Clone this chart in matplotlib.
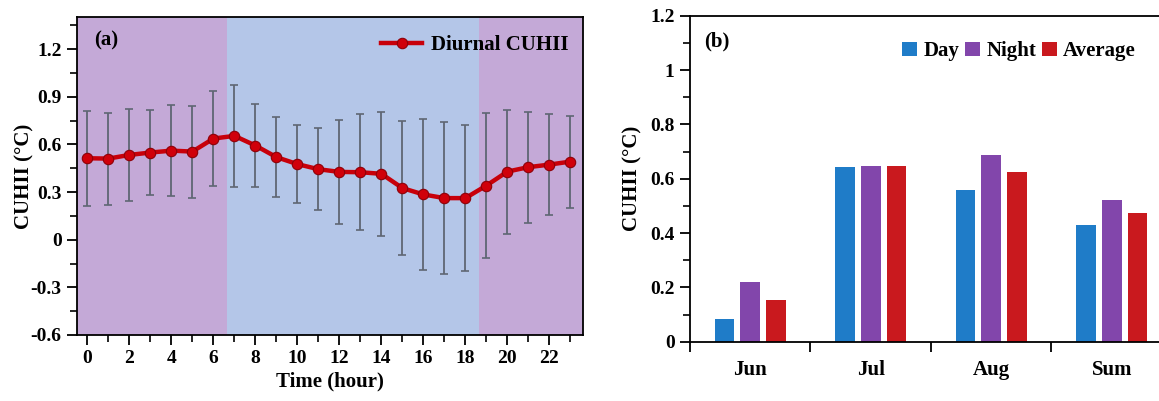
import matplotlib
matplotlib.use("Agg")
import matplotlib.pyplot as plt
from matplotlib.ticker import MultipleLocator
import numpy as np

plt.rcParams['font.family'] = ['Liberation Serif', 'DejaVu Serif']
plt.rcParams['font.weight'] = 'bold'
plt.rcParams['axes.labelweight'] = 'bold'

# Panel (a): diurnal CUHII with std error bars
hours = list(range(24))
cuhii_mean = [0.513, 0.511, 0.534, 0.549, 0.561, 0.555, 0.637, 0.654, 0.593, 0.520,
              0.476, 0.444, 0.427, 0.425, 0.415, 0.325, 0.285, 0.262, 0.262, 0.341,
              0.429, 0.457, 0.473, 0.492]
cuhii_std = [0.30, 0.29, 0.29, 0.27, 0.285, 0.29, 0.30, 0.32, 0.26, 0.25,
             0.245, 0.26, 0.33, 0.365, 0.39, 0.42, 0.475, 0.48, 0.46, 0.455,
             0.39, 0.35, 0.32, 0.29]
night_end = 6.65
day_end = 18.65

# Panel (b): monthly day / night / average CUHII
months = ['Jun', 'Jul', 'Aug', 'Sum']
day_vals = [0.083, 0.643, 0.559, 0.428]
night_vals = [0.221, 0.647, 0.688, 0.520]
avg_vals = [0.153, 0.647, 0.623, 0.474]

c_night_bg = '#c4a9d7'
c_day_bg = '#b4c6e8'
c_line = '#c8000a'
c_err = '#5f6673'
c_day = '#1f7cc8'
c_night = '#8246ab'
c_avg = '#c9191e'

fig = plt.figure(figsize=(11.59, 4.01), dpi=100)
ax1 = fig.add_axes([0.0664, 0.1646, 0.4366, 0.792])
ax2 = fig.add_axes([0.5953, 0.1479, 0.4159, 0.813])

# ---- (a)
ax1.set_xlim(-0.5, 23.6)
ax1.set_ylim(-0.6, 1.4)
ax1.axvspan(-0.5, night_end, color=c_night_bg, lw=0, zorder=0)
ax1.axvspan(night_end, day_end, color=c_day_bg, lw=0, zorder=0)
ax1.axvspan(day_end, 23.6, color=c_night_bg, lw=0, zorder=0)
ax1.errorbar(hours, cuhii_mean, yerr=cuhii_std, fmt='none', ecolor=c_err,
             elinewidth=1.3, capsize=3, capthick=1.2, zorder=2)
ax1.plot(hours, cuhii_mean, color=c_line, lw=3.2, marker='o', ms=7.5,
         mfc='#d0000a', mec='#8e0008', mew=0.8, zorder=3, label='Diurnal CUHII')
ax1.set_xticks(range(0, 24, 2))
ax1.xaxis.set_minor_locator(MultipleLocator(1))
ax1.set_yticks([-0.6, -0.3, 0, 0.3, 0.6, 0.9, 1.2])
ax1.set_yticklabels(['-0.6', '-0.3', '0', '0.3', '0.6', '0.9', '1.2'])
ax1.yaxis.set_minor_locator(MultipleLocator(0.15))
ax1.set_xlabel('Time (hour)', fontsize=15, labelpad=3)
ax1.set_ylabel('CUHII (°C)', fontsize=15)
ax1.yaxis.set_label_coords(-0.083, 0.5)
ax1.text(0.033, 0.96, '(a)', transform=ax1.transAxes, fontsize=15,
         fontweight='bold', va='top')
ax1.legend(loc='upper right', frameon=False, fontsize=15, handlelength=2.0,
           handletextpad=0.4, borderaxespad=0.3, bbox_to_anchor=(1.0, 0.99))

# ---- (b)
x = np.arange(len(months))
w = 0.163
off = 0.213
ax2.bar(x - off, day_vals, w, color=c_day, label='Day')
ax2.bar(x, night_vals, w, color=c_night, label='Night')
ax2.bar(x + off, avg_vals, w, color=c_avg, label='Average')
ax2.set_xlim(-0.5, 3.5)
ax2.set_ylim(0, 1.2)
ax2.set_xticks([-0.5, 0.5, 1.5, 2.5])
ax2.set_xticklabels([])
ax2.set_xticks(x, minor=True)
ax2.set_xticklabels(months, minor=True)
ax2.set_yticks([0, 0.2, 0.4, 0.6, 0.8, 1.0, 1.2])
ax2.set_yticklabels(['0', '0.2', '0.4', '0.6', '0.8', '1', '1.2'])
ax2.yaxis.set_minor_locator(MultipleLocator(0.1))
ax2.spines['right'].set_visible(False)
ax2.set_ylabel('CUHII (°C)', fontsize=15)
ax2.yaxis.set_label_coords(-0.098, 0.5)
ax2.text(0.03, 0.95, '(b)', transform=ax2.transAxes, fontsize=15,
         fontweight='bold', va='top')
ax2.legend(loc='upper left', bbox_to_anchor=(0.415, 0.96), frameon=False,
           fontsize=15, ncol=3, handlelength=0.7, handleheight=0.7,
           handletextpad=0.3, columnspacing=0.3, borderaxespad=0.2)

for ax in (ax1, ax2):
    for s in ax.spines.values():
        s.set_linewidth(1.3)
    ax.tick_params(which='major', direction='out', length=7, width=1.3,
                   labelsize=14, pad=4)
    ax.tick_params(which='minor', direction='out', length=5, width=1.2)
ax2.tick_params(axis='x', which='minor', length=0, pad=13, labelsize=15)

fig.savefig('out.png', dpi=100)
